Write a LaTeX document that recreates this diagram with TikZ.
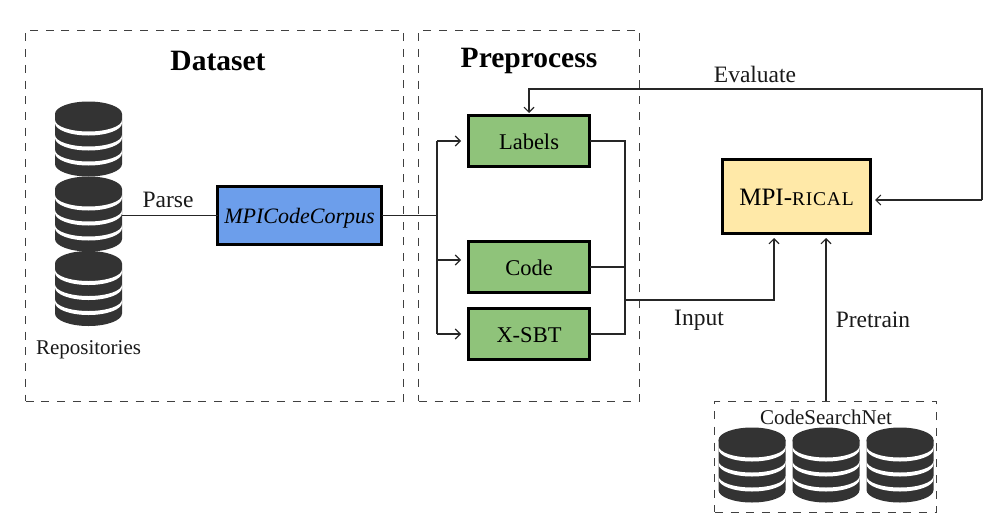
\documentclass[tikz,border=0pt]{standalone}
\usepackage{fontspec}
\setmainfont{Liberation Serif}
\usetikzlibrary{arrows.meta}
\definecolor{dbgray}{HTML}{333333}
\definecolor{boxgreen}{HTML}{8FC37A}
\definecolor{boxblue}{HTML}{6C9EEB}
\definecolor{boxyellow}{HTML}{FFE9A8}
\newcommand{\fs}[1]{\fontsize{#1}{#1}\selectfont}
\newcommand{\dn}[1]{\raisebox{-1.2pt}{#1}}
\tikzset{
  x=1pt,y=-1pt,
  groupbox/.style={draw=black!75,line width=1pt,dash pattern=on 8pt off 7.7pt,inner sep=0pt,outer sep=0pt},
  stagebox/.style={draw=black,line width=3pt,inner sep=0pt,outer sep=0pt,text=black,text depth=0pt},
  greenbox/.style={stagebox,fill=boxgreen,minimum width=121pt,minimum height=51pt,font=\fs{22.5}},
  conn/.style={draw=black!85,line width=1.2pt},
  arr/.style={conn,-{Straight Barb[length=5pt,width=10pt,line width=1.1pt]}},
  lbl/.style={font=\fs{23.5},inner sep=0pt,text=black!90},
  title/.style={font=\fs{29.5}\bfseries,inner sep=0pt,text=black},
  dbanchor/.style={inner sep=0pt,outer sep=0pt,minimum width=67pt,minimum height=75pt},
}
\newcommand{\dbicon}[3]{%
  \node[dbanchor] (#3) at (#1,#2) {};
  \begin{scope}[shift={(#1,#2)}]
    \fill[dbgray] (-33.5,-25) -- (33.5,-25)
      -- (33.5,25) arc[start angle=360,end angle=180,x radius=33.5pt,y radius=12.5pt] -- cycle;
    \fill[dbgray] (0,-25) ellipse[x radius=33.5pt,y radius=12.5pt];
    \foreach \o in {-16,-1,14}{
      \fill[white] (-33.5,\o) arc[start angle=180,end angle=360,x radius=33.5pt,y radius=12.5pt]
        -- (33.5,\o-3) arc[start angle=360,end angle=180,x radius=33.5pt,y radius=11.5pt] -- cycle;
    }
  \end{scope}}
\begin{document}
\begin{tikzpicture}
\useasboundingbox (0,0) rectangle (1000,530);
\node[groupbox,minimum width=378pt,minimum height=371pt] (dataset) at (214.7,215.5) {};
\node[groupbox,minimum width=221pt,minimum height=371pt] (preprocess) at (529.3,215.5) {};
\node[groupbox,minimum width=222pt,minimum height=111pt] (csn) at (825.8,456.5) {};
\node[title] (tdataset) at (218,61) {Dataset};
\node[title] (tpre) at (529,61) {Preprocess};
\dbicon{88.5}{139}{dbone}
\dbicon{88.5}{214}{dbtwo}
\dbicon{88.5}{288.5}{dbthree}
\node[lbl,font=\fs{21}] (repos) at (88.5,349.5) {Repositories};
\dbicon{752}{465}{dba}
\dbicon{826}{465}{dbb}
\dbicon{900}{465}{dbc}
\node[lbl,font=\fs{21}] (csnlabel) at (826,417) {CodeSearchNet};
\node[stagebox,fill=boxblue,minimum width=164pt,minimum height=58pt,font=\fs{22}\itshape] (corpus) at (299.5,215.5) {\dn{MPICodeCorpus}};
\node[greenbox] (labels) at (529,141) {\dn{Labels}};
\node[greenbox] (code) at (529,267) {\dn{Code}};
\node[greenbox] (xsbt) at (529,334) {\dn{X-SBT}};
\node[stagebox,fill=boxyellow,minimum width=148pt,minimum height=74pt,font=\fs{25}] (rical) at (796.5,196.5) {\dn{MPI-{\fs{19.5}\addfontfeature{LetterSpace=4}RICAL}}};
\coordinate (split) at (437,215.5);
\coordinate (splitA) at (437,141);
\coordinate (splitB) at (437,260);
\coordinate (splitC) at (437,334);
\coordinate (merge) at (625,300);
\coordinate (mergeA) at (625,141);
\coordinate (mergeB) at (625,267);
\coordinate (mergeC) at (625,334);
\coordinate (inB) at (774,300);
\coordinate (inT) at (774,238);
\coordinate (preT) at (826,238);
\coordinate (evalA) at (982,200);
\coordinate (evalB) at (982,89);
\coordinate (evalC) at (529,89);
\coordinate (evalT) at (529,113);
\coordinate (ricalE) at (875,200);
\coordinate (dbE) at (122,215.5);
\draw[conn] (dbE) -- (corpus.west);
\draw[conn] (corpus.east) -- (split);
\draw[conn] (splitA) -- (splitC);
\draw[arr] (splitA) -- (461,141);
\draw[arr] (splitB) -- (461,260);
\draw[arr] (splitC) -- (461,334);
\draw[conn] (labels.east) -- (mergeA) -- (mergeC) -- (xsbt.east);
\draw[conn] (code.east) -- (mergeB);
\draw[arr] (merge) -- (inB) -- (inT);
\draw[arr] (preT |- csn.north) -- (preT);
\draw[arr] (evalA) -- (evalB) -- (evalC) -- (evalT);
\draw[arr] (evalA) -- (ricalE);
\node[lbl] (parse) at (168,200) {Parse};
\node[lbl] (evaluate) at (755,74) {Evaluate};
\node[lbl] (input) at (699,320) {Input};
\node[lbl] (pretrain) at (873,320) {Pretrain};
\end{tikzpicture}
\end{document}
